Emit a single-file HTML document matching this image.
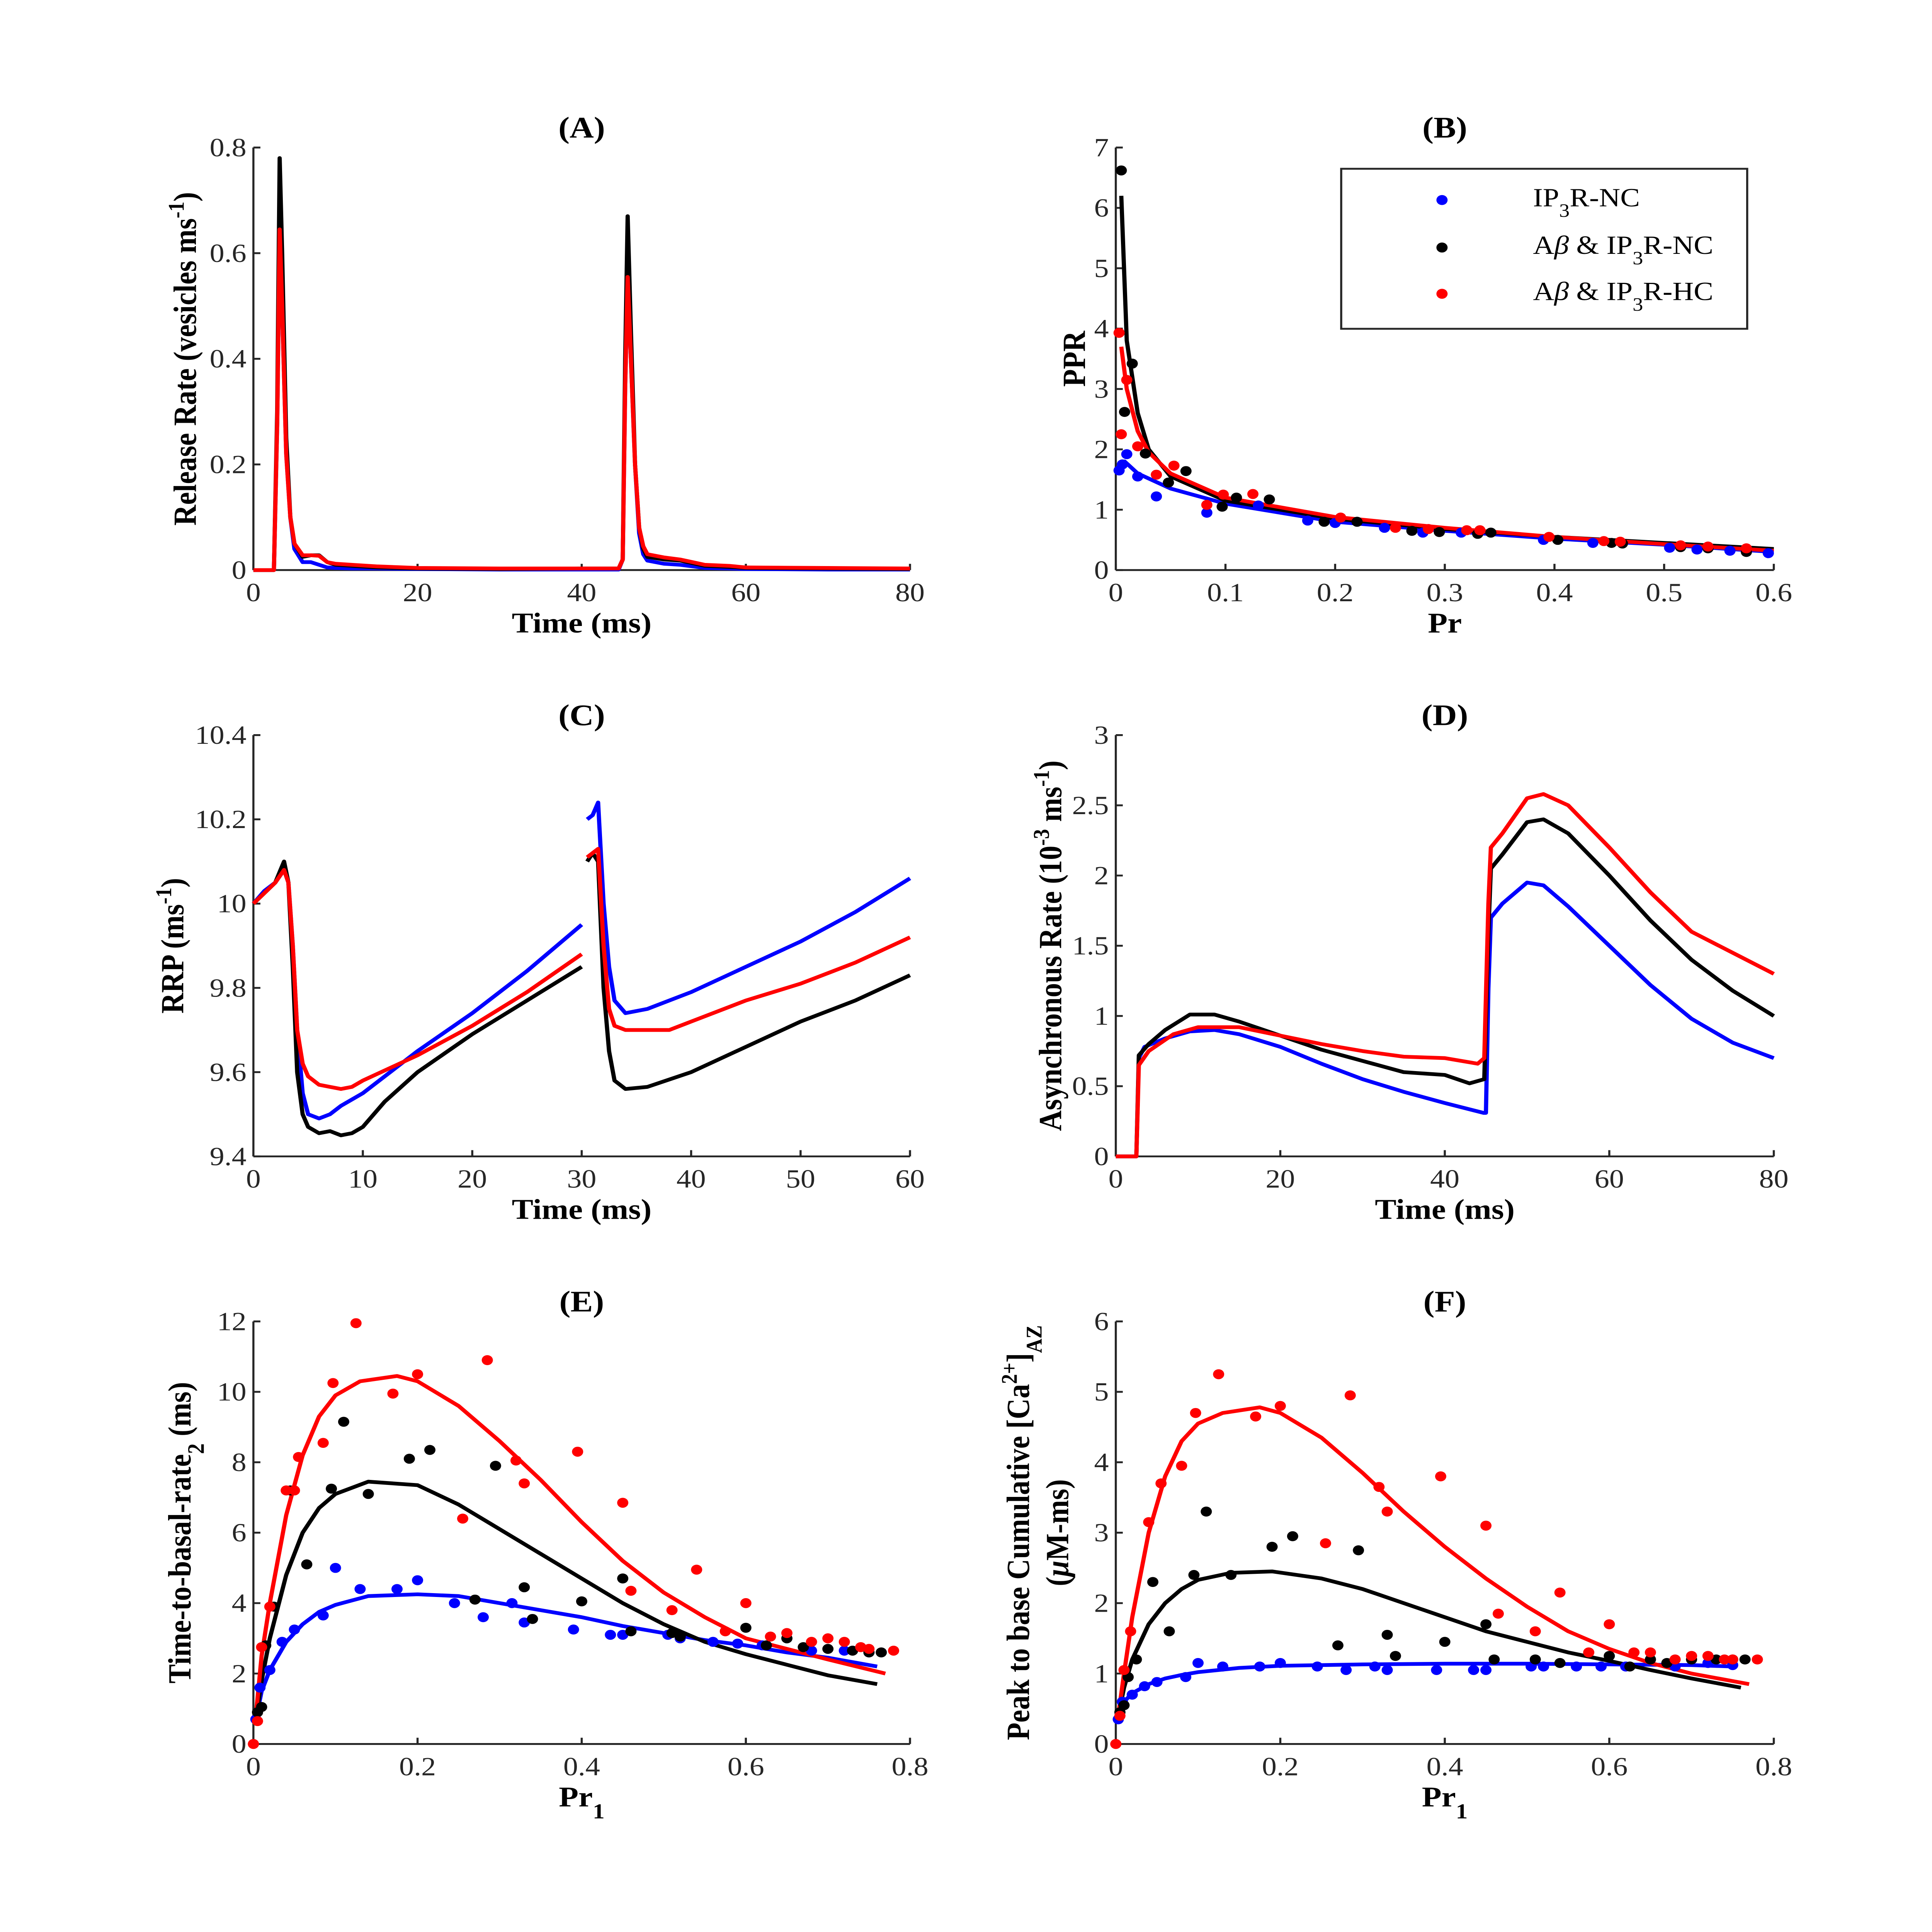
<!DOCTYPE html>
<html><head><meta charset="utf-8"><style>
html,body{margin:0;padding:0;background:#fff;width:100vw;height:100vh;overflow:hidden;}
svg{display:block;width:100vw;height:100vh;}
text{font-family:"Liberation Serif",serif;fill:#262626;}
.tick{font-size:21px;}
.lab{font-size:23px;font-weight:bold;fill:#000;}
.ttl{font-size:24px;font-weight:bold;fill:#000;}
</style></head><body>
<svg id="fig" viewBox="0 0 1380 1545.4" preserveAspectRatio="none">
 <g>
  <rect x="958" y="135" width="290" height="128" fill="#fff" stroke="#262626" stroke-width="1.5"/>
  <g><circle cx="1030" cy="160" r="4" fill="#0000ff"/><text x="1095" y="165" class="tick" style="fill:#000">IP<tspan baseline-shift="sub" font-size="15">3</tspan>R-NC</text></g>
  <g><circle cx="1030" cy="198" r="4" fill="#000"/><text x="1095" y="203" class="tick" style="fill:#000">A<tspan font-style="italic">β</tspan> &amp; IP<tspan baseline-shift="sub" font-size="15">3</tspan>R-NC</text></g>
  <g><circle cx="1030" cy="235" r="4" fill="#ff0000"/><text x="1095" y="240" class="tick" style="fill:#000">A<tspan font-style="italic">β</tspan> &amp; IP<tspan baseline-shift="sub" font-size="15">3</tspan>R-HC</text></g>
 </g>
</svg>
<script>
// ---- Panel A data (Time ms, release rate) ----
const aTime=[0,2.5,2.9,3.2,3.5,4,4.5,5,6,7,8,9,10,12,15,20,30,40,44.5,45,45.3,45.6,46,46.5,47,47.5,48,50,52,55,58,60,70,80];
const aBlack=[0,0,0.3,0.78,0.6,0.25,0.1,0.05,0.025,0.028,0.028,0.015,0.01,0.008,0.005,0.003,0.002,0.003,0.003,0.02,0.4,0.67,0.45,0.2,0.08,0.04,0.025,0.02,0.018,0.008,0.006,0.004,0.003,0.002];
const aRed=[0,0,0.28,0.645,0.5,0.22,0.1,0.05,0.028,0.028,0.027,0.015,0.012,0.01,0.007,0.004,0.003,0.003,0.003,0.02,0.35,0.555,0.4,0.2,0.08,0.045,0.03,0.024,0.02,0.01,0.008,0.005,0.004,0.003];
const aBlue=[0,0,0.28,0.64,0.5,0.22,0.1,0.04,0.015,0.015,0.01,0.005,0.004,0.003,0.003,0.002,0.001,0.001,0.001,0.02,0.35,0.55,0.4,0.2,0.07,0.03,0.018,0.012,0.01,0.004,0.003,0.002,0.001,0.001];
// ---- Panel B data ----
const bBlueLine=[[0.003,1.7],[0.008,1.8],[0.02,1.6],[0.05,1.35],[0.1,1.1],[0.2,0.8],[0.3,0.65],[0.4,0.52],[0.5,0.42],[0.6,0.3]];
const bBlackLine=[[0.005,6.2],[0.01,3.8],[0.02,2.6],[0.03,2.0],[0.05,1.55],[0.1,1.15],[0.2,0.85],[0.3,0.68],[0.4,0.55],[0.5,0.45],[0.6,0.35]];
const bRedLine=[[0.005,3.7],[0.01,3.0],[0.02,2.3],[0.03,1.95],[0.05,1.6],[0.1,1.2],[0.2,0.88],[0.3,0.7],[0.4,0.55],[0.5,0.43],[0.6,0.32]];
const bBlueDots=[[0.003,1.65],[0.006,1.75],[0.01,1.92],[0.02,1.55],[0.037,1.22],[0.083,0.95],[0.13,1.07],[0.175,0.82],[0.2,0.78],[0.245,0.7],[0.28,0.62],[0.315,0.62],[0.39,0.5],[0.435,0.45],[0.505,0.37],[0.53,0.34],[0.56,0.32],[0.595,0.28]];
const bBlackDots=[[0.005,6.62],[0.008,2.62],[0.015,3.42],[0.027,1.93],[0.048,1.45],[0.064,1.64],[0.097,1.05],[0.11,1.2],[0.14,1.17],[0.19,0.8],[0.22,0.8],[0.27,0.65],[0.295,0.63],[0.33,0.6],[0.342,0.62],[0.403,0.5],[0.452,0.45],[0.462,0.44],[0.515,0.38],[0.54,0.36],[0.575,0.3]];
const bRedDots=[[0.003,3.93],[0.005,2.25],[0.01,3.15],[0.02,2.05],[0.037,1.58],[0.053,1.73],[0.083,1.08],[0.098,1.25],[0.125,1.26],[0.205,0.87],[0.255,0.7],[0.285,0.68],[0.32,0.66],[0.332,0.66],[0.395,0.55],[0.445,0.48],[0.46,0.47],[0.515,0.41],[0.54,0.39],[0.575,0.36]];
// ---- Panel C data ----
const cBlue1=[[0,10.0],[1,10.03],[2,10.05],[2.8,10.08],[3.2,10.05],[3.6,9.9],[4,9.7],[4.5,9.55],[5,9.5],[6,9.49],[7,9.5],[8,9.52],[10,9.55],[15,9.65],[20,9.74],[25,9.84],[30,9.95]];
const cBlue2=[[30.5,10.2],[31,10.21],[31.5,10.24],[32,10.0],[32.5,9.85],[33,9.77],[34,9.74],[36,9.75],[40,9.79],[45,9.85],[50,9.91],[55,9.98],[60,10.06]];
const cBlack1=[[0,10.0],[2,10.05],[2.8,10.1],[3.2,10.05],[3.6,9.85],[4,9.6],[4.5,9.5],[5,9.47],[6,9.455],[7,9.46],[8,9.45],[9,9.455],[10,9.47],[12,9.53],[15,9.6],[20,9.69],[25,9.77],[30,9.85]];
const cBlack2=[[30.5,10.1],[31,10.12],[31.5,10.1],[32,9.8],[32.5,9.65],[33,9.58],[34,9.56],[36,9.565],[40,9.6],[45,9.66],[50,9.72],[55,9.77],[60,9.83]];
const cRed1=[[0,10.0],[2,10.05],[2.8,10.08],[3.2,10.05],[3.6,9.9],[4,9.7],[4.5,9.62],[5,9.59],[6,9.57],[7,9.565],[8,9.56],[9,9.565],[10,9.58],[15,9.64],[20,9.71],[25,9.79],[30,9.88]];
const cRed2=[[30.5,10.11],[31,10.12],[31.5,10.13],[32,9.9],[32.5,9.75],[33,9.71],[34,9.7],[38,9.7],[40,9.72],[45,9.77],[50,9.81],[55,9.86],[60,9.92]];
// ---- Panel D data ----
const dBlue=[[0,0],[2.5,0],[2.8,0.7],[3.5,0.78],[6,0.84],[9,0.89],[12,0.9],[15,0.87],[20,0.78],[25,0.66],[30,0.55],[35,0.46],[40,0.38],[44.7,0.31],[45,0.31],[45.3,1.2],[45.6,1.7],[47,1.8],[50,1.95],[52,1.93],[55,1.78],[60,1.5],[65,1.22],[70,0.98],[75,0.81],[80,0.7]];
const dBlack=[[0,0],[2.5,0],[2.8,0.72],[4,0.8],[6,0.9],[9,1.01],[12,1.01],[15,0.96],[20,0.86],[25,0.76],[30,0.68],[35,0.6],[40,0.58],[43,0.52],[44.8,0.55],[45.3,1.6],[45.6,2.05],[47,2.15],[50,2.38],[52,2.4],[55,2.3],[60,2.0],[65,1.68],[70,1.4],[75,1.18],[80,1.0]];
const dRed=[[0,0],[2.5,0],[2.8,0.65],[4,0.75],[7,0.87],[10,0.92],[15,0.92],[20,0.86],[25,0.8],[30,0.75],[35,0.71],[40,0.7],[44,0.66],[44.8,0.7],[45.3,1.8],[45.6,2.2],[47,2.3],[50,2.55],[52,2.58],[55,2.5],[60,2.2],[65,1.88],[70,1.6],[75,1.45],[80,1.3]];
// ---- Panel E data ----
const eRedLine=[[0.003,0.8],[0.01,2.5],[0.02,4],[0.04,6.5],[0.06,8.2],[0.08,9.3],[0.1,9.9],[0.13,10.3],[0.175,10.45],[0.2,10.3],[0.25,9.6],[0.3,8.6],[0.35,7.5],[0.4,6.3],[0.45,5.2],[0.5,4.3],[0.55,3.6],[0.6,3.0],[0.65,2.7],[0.7,2.4],[0.77,2.0]];
const eBlackLine=[[0.003,0.7],[0.01,1.8],[0.02,3],[0.04,4.8],[0.06,6.0],[0.08,6.7],[0.1,7.1],[0.14,7.45],[0.2,7.35],[0.25,6.8],[0.3,6.1],[0.35,5.4],[0.4,4.7],[0.45,4.0],[0.5,3.4],[0.55,2.9],[0.6,2.55],[0.65,2.25],[0.7,1.95],[0.76,1.7]];
const eBlueLine=[[0.003,0.7],[0.01,1.5],[0.02,2.1],[0.04,2.9],[0.06,3.4],[0.08,3.75],[0.1,3.95],[0.14,4.2],[0.2,4.25],[0.25,4.2],[0.3,4.0],[0.35,3.8],[0.4,3.6],[0.45,3.35],[0.5,3.15],[0.55,2.95],[0.6,2.8],[0.65,2.6],[0.7,2.45],[0.76,2.2]];
const eRedDots=[[0,0],[0.005,0.65],[0.01,2.75],[0.02,3.9],[0.04,7.2],[0.05,7.2],[0.055,8.15],[0.085,8.55],[0.097,10.25],[0.125,11.95],[0.17,9.95],[0.2,10.5],[0.255,6.4],[0.285,10.9],[0.32,8.05],[0.33,7.4],[0.395,8.3],[0.45,6.85],[0.46,4.35],[0.51,3.8],[0.54,4.95],[0.575,3.2],[0.6,4.0],[0.63,3.05],[0.65,3.15],[0.68,2.9],[0.7,3.0],[0.72,2.9],[0.74,2.75],[0.75,2.7],[0.78,2.65]];
const eBlackDots=[[0.005,0.9],[0.01,1.05],[0.015,2.8],[0.025,3.9],[0.045,7.2],[0.065,5.1],[0.095,7.25],[0.11,9.15],[0.14,7.1],[0.19,8.1],[0.215,8.35],[0.27,4.1],[0.295,7.9],[0.33,4.45],[0.34,3.55],[0.4,4.05],[0.45,4.7],[0.46,3.2],[0.51,3.15],[0.52,3.05],[0.6,3.3],[0.625,2.8],[0.65,3.0],[0.67,2.75],[0.7,2.7],[0.73,2.65],[0.75,2.6],[0.765,2.6]];
const eBlueDots=[[0.003,0.7],[0.008,1.6],[0.02,2.1],[0.035,2.9],[0.05,3.25],[0.085,3.65],[0.1,5.0],[0.13,4.4],[0.175,4.4],[0.2,4.65],[0.245,4.0],[0.28,3.6],[0.315,4.0],[0.33,3.45],[0.39,3.25],[0.435,3.1],[0.45,3.1],[0.505,3.1],[0.52,3.0],[0.56,2.9],[0.59,2.85],[0.62,2.8],[0.68,2.65],[0.72,2.65],[0.75,2.6]];
// ---- Panel F data ----
const fRedLine=[[0.003,0.4],[0.01,1.0],[0.02,1.8],[0.04,3.0],[0.06,3.8],[0.08,4.3],[0.1,4.55],[0.13,4.7],[0.175,4.78],[0.2,4.7],[0.25,4.35],[0.3,3.85],[0.35,3.3],[0.4,2.8],[0.45,2.35],[0.5,1.95],[0.55,1.6],[0.6,1.35],[0.65,1.15],[0.7,1.0],[0.77,0.85]];
const fBlackLine=[[0.003,0.4],[0.01,0.8],[0.02,1.2],[0.04,1.7],[0.06,2.0],[0.08,2.2],[0.1,2.33],[0.14,2.43],[0.19,2.45],[0.25,2.35],[0.3,2.2],[0.35,2.0],[0.4,1.8],[0.45,1.6],[0.5,1.45],[0.55,1.3],[0.6,1.18],[0.65,1.05],[0.7,0.93],[0.76,0.8]];
const fBlueLine=[[0.003,0.4],[0.01,0.6],[0.02,0.72],[0.04,0.85],[0.06,0.93],[0.08,0.98],[0.1,1.02],[0.15,1.08],[0.2,1.11],[0.3,1.13],[0.4,1.14],[0.5,1.14],[0.6,1.13],[0.7,1.12],[0.75,1.1]];
const fRedDots=[[0,0],[0.005,0.4],[0.01,1.05],[0.018,1.6],[0.04,3.15],[0.055,3.7],[0.08,3.95],[0.097,4.7],[0.125,5.25],[0.17,4.65],[0.2,4.8],[0.255,2.85],[0.285,4.95],[0.32,3.65],[0.33,3.3],[0.395,3.8],[0.45,3.1],[0.465,1.85],[0.51,1.6],[0.54,2.15],[0.575,1.3],[0.6,1.7],[0.63,1.3],[0.65,1.3],[0.68,1.2],[0.7,1.25],[0.72,1.25],[0.74,1.2],[0.75,1.2],[0.78,1.2]];
const fBlackDots=[[0.005,0.45],[0.01,0.55],[0.015,0.95],[0.025,1.2],[0.045,2.3],[0.065,1.6],[0.095,2.4],[0.11,3.3],[0.14,2.4],[0.19,2.8],[0.215,2.95],[0.27,1.4],[0.295,2.75],[0.33,1.55],[0.34,1.25],[0.4,1.45],[0.45,1.7],[0.46,1.2],[0.51,1.2],[0.54,1.15],[0.6,1.25],[0.625,1.1],[0.65,1.2],[0.67,1.15],[0.7,1.2],[0.73,1.2],[0.75,1.2],[0.765,1.2]];
const fBlueDots=[[0.003,0.35],[0.008,0.6],[0.02,0.7],[0.035,0.82],[0.05,0.88],[0.085,0.95],[0.1,1.15],[0.13,1.1],[0.175,1.1],[0.2,1.15],[0.245,1.1],[0.28,1.05],[0.315,1.1],[0.33,1.05],[0.39,1.05],[0.435,1.05],[0.45,1.05],[0.505,1.1],[0.52,1.1],[0.56,1.1],[0.59,1.1],[0.62,1.1],[0.68,1.1],[0.72,1.15],[0.75,1.12]];
// tick labels
const ticksA_x=[0,20,40,60,80], ticksA_y=[0,0.2,0.4,0.6,0.8];
const ticksB_x=[0,0.1,0.2,0.3,0.4,0.5,0.6], ticksB_y=[0,1,2,3,4,5,6,7];
const ticksC_x=[0,10,20,30,40,50,60], ticksC_y=[9.4,9.6,9.8,10,10.2,10.4];
const ticksD_x=[0,20,40,60,80], ticksD_y=[0,0.5,1,1.5,2,2.5,3];
const ticksEF_x=[0,0.2,0.4,0.6,0.8], ticksE_y=[0,2,4,6,8,10,12], ticksF_y=[0,1,2,3,4,5,6];

const NS='http://www.w3.org/2000/svg';
const svg=document.getElementById('fig');
const BLUE='#0000ff',BLACK='#000000',RED='#ff0000';
function mk(tag,attrs,parent){const e=document.createElementNS(NS,tag);for(const k in attrs)e.setAttribute(k,attrs[k]);(parent||svg).appendChild(e);return e;}
function fmt(v){return String(Math.round(v*1000)/1000);}
function panel(o){
  const g=mk('g',{});
  
  
  const sx=v=>o.x0+(v-o.xmin)/(o.xmax-o.xmin)*(o.x1-o.x0);
  const sy=v=>o.y0-(v-o.ymin)/(o.ymax-o.ymin)*(o.y0-o.y1);
  const ax=mk('g',{},g);
  
  
  mk('line',{x1:o.x0,y1:o.y0,x2:o.x1,y2:o.y0,stroke:'#262626','stroke-width':1.5},ax);
  mk('line',{x1:o.x0,y1:o.y0,x2:o.x0,y2:o.y1,stroke:'#262626','stroke-width':1.5},ax);
  o.xt.forEach(v=>{const x=sx(v);mk('line',{x1:x,y1:o.y0,x2:x,y2:o.y0-5,stroke:'#262626','stroke-width':1.5},ax);
    const t=mk('text',{x:x,y:o.y0+25,'text-anchor':'middle',class:'tick'},ax);t.textContent=fmt(v);
    
    });
  o.yt.forEach(v=>{const y=sy(v);mk('line',{x1:o.x0,y1:y,x2:o.x0+5,y2:y,stroke:'#262626','stroke-width':1.5},ax);
    const t=mk('text',{x:o.x0-5,y:y+7,'text-anchor':'end',class:'tick'},ax);t.textContent=fmt(v);
    
    });
  const tt=mk('text',{x:(o.x0+o.x1)/2,y:o.y1-8,'text-anchor':'middle',class:'ttl'},g);tt.textContent=o.title;
  
  
  const xl=mk('text',{x:(o.x0+o.x1)/2,y:o.y0+50,'text-anchor':'middle',class:'lab'},g);xl.innerHTML=o.xlabel;
  
  
  o.ylabels.forEach(yl=>{const t=mk('text',{x:0,y:0,'text-anchor':'middle',class:'lab',transform:`translate(${yl.x},${(o.y0+o.y1)/2}) rotate(-90)`},g);t.innerHTML=yl.t;
    
    });
  (o.lines||[]).forEach(L=>{const d=L.pts.map((p,i)=>(i?'L':'M')+sx(p[0]).toFixed(2)+' '+sy(p[1]).toFixed(2)).join(' ');
    const p=mk('path',{d:d,fill:'none',stroke:L.c,'stroke-width':L.w||3,'stroke-linejoin':'round'},g);
    
    });
  (o.dots||[]).forEach(D=>{const dg=mk('g',{fill:D.c},g);
    
    
    D.pts.forEach(p=>mk('circle',{cx:sx(p[0]),cy:sy(p[1]),r:4},dg));});
}
const zip=(xs,ys)=>xs.map((x,i)=>[x,ys[i]]);
panel({name:'panel-a',title:'(A)',x0:181,x1:650,y0:456,y1:118,xmin:0,xmax:80,ymin:0,ymax:0.8,xt:ticksA_x,yt:ticksA_y,
  xlabel:'Time (ms)',ylabels:[{x:140,t:'Release Rate (vesicles ms<tspan baseline-shift="super" font-size="16">-1</tspan>)'}],
  lines:[{n:'series-ip3r-nc',c:BLUE,pts:zip(aTime,aBlue)},{n:'series-abeta-ip3r-nc',c:BLACK,pts:zip(aTime,aBlack)},{n:'series-abeta-ip3r-hc',c:RED,pts:zip(aTime,aRed)}]});
panel({name:'panel-b',title:'(B)',x0:797,x1:1267,y0:456,y1:118,xmin:0,xmax:0.6,ymin:0,ymax:7,xt:ticksB_x,yt:ticksB_y,
  xlabel:'Pr',ylabels:[{x:775,t:'PPR'}],
  dots:[{n:'dots-ip3r-nc',c:BLUE,pts:bBlueDots},{n:'dots-abeta-ip3r-nc',c:BLACK,pts:bBlackDots},{n:'dots-abeta-ip3r-hc',c:RED,pts:bRedDots}],
  lines:[{n:'fit-ip3r-nc',c:BLUE,pts:bBlueLine},{n:'fit-abeta-ip3r-nc',c:BLACK,pts:bBlackLine},{n:'fit-abeta-ip3r-hc',c:RED,pts:bRedLine}]});
panel({name:'panel-c',title:'(C)',x0:181,x1:650,y0:925,y1:588,xmin:0,xmax:60,ymin:9.4,ymax:10.4,xt:ticksC_x,yt:ticksC_y,
  xlabel:'Time (ms)',ylabels:[{x:131,t:'RRP (ms<tspan baseline-shift="super" font-size="16">-1</tspan>)'}],
  lines:[{n:'rrp-blue-1',c:BLUE,pts:cBlue1},{n:'rrp-blue-2',c:BLUE,pts:cBlue2},{n:'rrp-black-1',c:BLACK,pts:cBlack1},{n:'rrp-black-2',c:BLACK,pts:cBlack2},{n:'rrp-red-1',c:RED,pts:cRed1},{n:'rrp-red-2',c:RED,pts:cRed2}]});
panel({name:'panel-d',title:'(D)',x0:797,x1:1267,y0:925,y1:588,xmin:0,xmax:80,ymin:0,ymax:3,xt:ticksD_x,yt:ticksD_y,
  xlabel:'Time (ms)',ylabels:[{x:758,t:'Asynchronous Rate (10<tspan baseline-shift="super" font-size="16">-3</tspan> ms<tspan baseline-shift="super" font-size="16">-1</tspan>)'}],
  lines:[{n:'async-blue',c:BLUE,pts:dBlue},{n:'async-black',c:BLACK,pts:dBlack},{n:'async-red',c:RED,pts:dRed}]});
panel({name:'panel-e',title:'(E)',x0:181,x1:650,y0:1395,y1:1057,xmin:0,xmax:0.8,ymin:0,ymax:12,xt:ticksEF_x,yt:ticksE_y,
  xlabel:'Pr<tspan baseline-shift="sub" font-size="17">1</tspan>',ylabels:[{x:136,t:'Time-to-basal-rate<tspan baseline-shift="sub" font-size="17">2</tspan> (ms)'}],
  dots:[{n:'dots-blue',c:BLUE,pts:eBlueDots},{n:'dots-black',c:BLACK,pts:eBlackDots},{n:'dots-red',c:RED,pts:eRedDots}],
  lines:[{n:'fit-blue',c:BLUE,pts:eBlueLine},{n:'fit-black',c:BLACK,pts:eBlackLine},{n:'fit-red',c:RED,pts:eRedLine}]});
panel({name:'panel-f',title:'(F)',x0:797,x1:1267,y0:1395,y1:1057,xmin:0,xmax:0.8,ymin:0,ymax:6,xt:ticksEF_x,yt:ticksF_y,
  xlabel:'Pr<tspan baseline-shift="sub" font-size="17">1</tspan>',ylabels:[{x:735,t:'Peak to base Cumulative [Ca<tspan baseline-shift="super" font-size="16">2+</tspan>]<tspan baseline-shift="sub" font-size="16">AZ</tspan>'},{x:763,t:'(<tspan font-style="italic">μ</tspan>M-ms)'}],
  dots:[{n:'dots-blue',c:BLUE,pts:fBlueDots},{n:'dots-black',c:BLACK,pts:fBlackDots},{n:'dots-red',c:RED,pts:fRedDots}],
  lines:[{n:'fit-blue',c:BLUE,pts:fBlueLine},{n:'fit-black',c:BLACK,pts:fBlackLine},{n:'fit-red',c:RED,pts:fRedLine}]});
</script>
</body></html>
